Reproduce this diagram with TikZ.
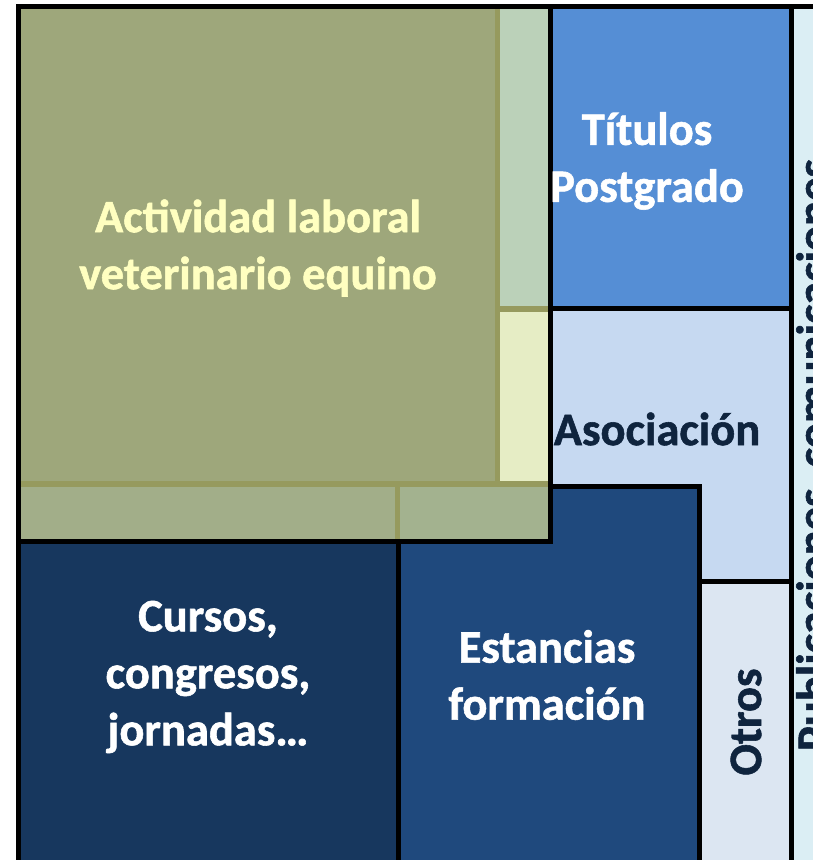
\documentclass[tikz,border=0pt]{standalone}
\usepackage{fontspec}
\setmainfont{Carlito}[BoldFeatures={FakeBold=1.2}]

\definecolor{olivemain}{HTML}{9EA77B}
\definecolor{oliveline}{HTML}{969A5E}
\definecolor{olivestripa}{HTML}{BBD1B9}
\definecolor{olivestripb}{HTML}{E6EDC5}
\definecolor{olivebotl}{HTML}{A2AE89}
\definecolor{olivebotr}{HTML}{A3B28F}
\definecolor{titblue}{HTML}{558ED5}
\definecolor{asoblue}{HTML}{C6D9F1}
\definecolor{otrblue}{HTML}{DCE6F2}
\definecolor{pubblue}{HTML}{DBEEF4}
\definecolor{curnavy}{HTML}{17375E}
\definecolor{estnavy}{HTML}{1F497D}
\definecolor{darktext}{HTML}{0F243E}
\definecolor{paletext}{HTML}{FFFFC0}

\begin{document}
\begin{tikzpicture}[x=1pt,y=-1pt,
    cell/.style={draw=black,line width=5pt},
    label/.style={font={\fontsize{46.5}{57}\selectfont\bfseries},
        align=center,inner sep=0pt},
    ]
    \useasboundingbox (0,0) rectangle (813,860);
    \clip (0,0) rectangle (813,860);

    % Right column
    \filldraw[cell,fill=pubblue] (791.5,6.5) rectangle (840,870);
    \filldraw[cell,fill=titblue] (550.5,6.5) rectangle (791.5,308);
    \filldraw[cell,fill=asoblue] (550.5,308) rectangle (791.5,581);
    \filldraw[cell,fill=otrblue] (699.5,581) rectangle (791.5,870);

    % Lower row
    \filldraw[cell,fill=curnavy] (18,541.5) rectangle (398,870);
    \filldraw[cell,fill=estnavy] (398,486.5) rectangle (699.5,870);

    % Olive group with its sub cells
    \fill[oliveline] (18,6.5) rectangle (550.5,541.5);
    \fill[olivemain] (20,9) rectangle (495,481);
    \fill[olivestripa] (500,9) rectangle (548,306);
    \fill[olivestripb] (500,312) rectangle (548,481);
    \fill[olivebotl] (21,487) rectangle (395,539);
    \fill[olivebotr] (400,487) rectangle (548,539);
    \draw[cell] (18,6.5) rectangle (550.5,541.5);

    % Labels
    \node[label,text=paletext] (actividad) at (258,248)
        {Actividad laboral\\veterinario equino};
    \node[label,text=white] (titulos) at (647,161) {Títulos\\Postgrado};
    \node[label,text=darktext] (asociacion) at (657,429) {Asociación};
    \node[label,text=white] (cursos) at (208,677) {Cursos,\\congresos,\\jornadas…};
    \node[label,text=white] (estancias) at (547,675) {Estancias\\formación};
    \node[label,text=darktext,rotate=90] (otros) at (746,722) {Otros};
    \node[label,text=darktext,rotate=90,anchor=north]
        (publicaciones) at (796,455) {Publicaciones\ \ comunicaciones};
\end{tikzpicture}
\end{document}
